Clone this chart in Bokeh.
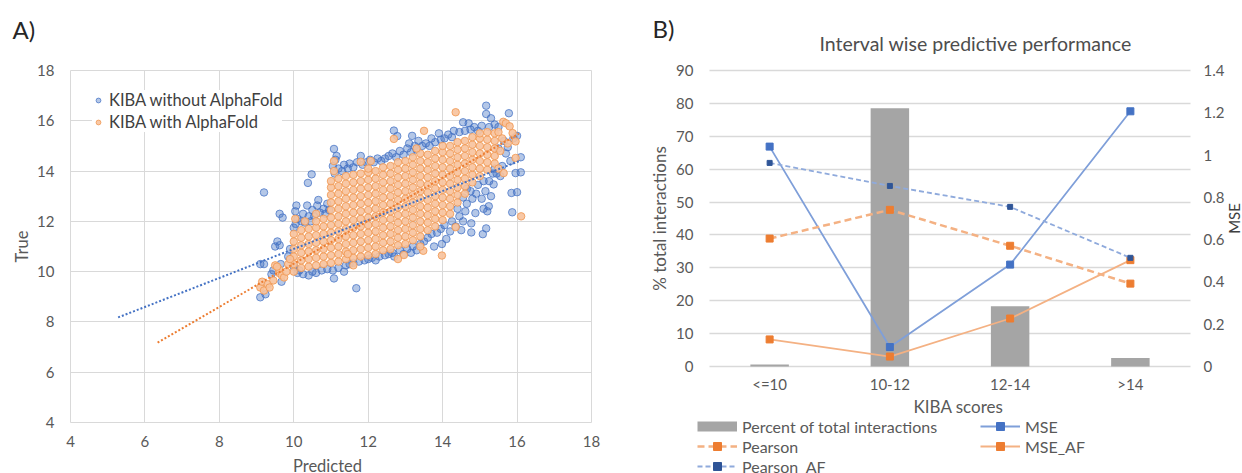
import math
from bokeh.plotting import figure
from bokeh.models import (Range1d, LinearAxis, FixedTicker, Legend, LegendItem, Label,
                          CustomJSTickFormatter)
from bokeh.layouts import row
from bokeh.embed import file_html
from bokeh.resources import INLINE

FONT = "Lato"
TXT = "#595959"
GRID = "#D9D9D9"

# ---------------- Panel A data ----------------
axis_ticks = [4, 6, 8, 10, 12, 14, 16, 18]

blue_trend_x = [5.28, 16.1]
blue_trend_y = [8.18, 14.42]
orange_trend_x = [6.34, 16.05]
orange_trend_y = [7.18, 15.49]

blue_points = [
    (9.2, 13.15), (9.1, 10.3), (9.2, 10.3), (9.1, 8.98), (9.24, 9.1), (9.4, 9.9), (9.45, 10.05),
    (9.67, 9.6), (9.5, 11.0), (9.56, 11.2), (9.62, 11.05), (9.65, 10.3), (9.62, 12.3), (9.7, 12.15),
    (9.85, 10.6), (9.9, 10.9),
    (10.04, 12.4), (10.07, 12.63), (10.05, 11.9), (10.1, 12.1), (10.2, 12.0), (10.25, 12.3),
    (10.36, 12.63), (10.38, 13.53), (10.48, 13.87), (10.4, 12.2), (10.5, 12.45), (10.55, 12.2),
    (10.63, 12.63), (10.66, 12.85), (10.7, 12.35), (10.8, 12.5), (10.85, 12.3), (10.9, 12.7),
    (10.95, 12.45), (10.3, 11.95), (10.45, 12.0), (10.0, 11.75),
    (10.1, 9.95), (10.25, 9.9), (10.4, 9.85), (10.5, 10.0), (10.6, 9.95), (10.75, 10.05),
    (10.9, 10.1), (10.15, 10.05), (10.0, 10.2),
    (11.08, 14.88), (11.05, 14.2), (11.1, 13.9), (11.12, 14.45), (11.2, 14.1), (11.15, 14.6),
    (11.3, 14.0), (11.35, 14.25), (11.45, 14.1), (11.5, 14.3), (11.6, 14.15), (11.7, 14.35),
    (11.8, 14.6), (11.85, 14.25), (11.95, 14.35), (12.05, 14.45), (12.15, 14.35), (12.25, 14.5),
    (12.35, 14.4), (12.45, 14.5), (12.55, 14.6), (12.69, 15.61), (12.78, 15.39), (12.65, 14.7),
    (12.75, 14.55), (12.85, 14.8), (12.95, 14.65), (13.05, 14.9), (13.15, 14.75), (13.18, 15.4),
    (13.25, 15.0), (13.3, 14.85), (13.35, 15.2), (13.45, 15.0), (13.1, 15.1),
    (13.55, 15.1), (13.65, 15.0), (13.7, 15.3), (13.8, 15.15), (13.9, 15.5), (13.95, 15.25),
    (14.05, 15.3), (14.15, 15.45), (14.25, 15.35), (14.3, 15.6), (14.45, 15.55), (14.55, 15.94),
    (14.7, 15.9), (14.6, 15.6), (14.75, 15.65), (14.85, 15.75), (14.95, 15.6), (15.05, 15.8),
    (15.17, 16.6), (15.17, 16.27), (15.3, 16.1), (15.25, 15.75), (15.4, 15.85), (15.78, 16.3),
    (15.5, 15.75),
    (15.6, 14.2), (15.82, 14.4), (15.96, 13.92), (15.85, 13.13), (15.87, 12.36), (16.1, 14.55),
    (16.1, 13.95), (16.0, 13.16), (15.55, 13.8), (15.7, 14.7), (15.5, 14.9), (15.9, 15.3),
    (16.0, 15.4), (15.65, 15.2), (15.37, 13.47), (15.45, 13.9), (15.75, 14.95),
    (11.08, 9.73), (11.35, 10.0), (11.68, 9.34), (11.05, 10.05), (11.2, 10.15), (11.4, 10.25),
    (11.5, 10.3), (11.6, 10.35), (11.75, 10.4), (11.9, 10.45), (12.0, 10.5), (12.1, 10.55),
    (12.2, 10.45), (12.3, 10.6), (12.45, 10.65), (12.55, 10.7), (12.65, 10.75), (12.7, 10.6),
    (12.85, 10.85), (12.95, 10.7), (13.05, 10.9), (13.2, 11.0), (13.3, 10.85), (13.4, 11.1),
    (13.15, 10.75),
    (13.5, 11.2), (13.6, 11.35), (13.77, 11.0), (13.7, 11.5), (13.85, 11.55), (13.98, 11.1),
    (13.95, 11.7), (14.1, 11.3), (14.05, 11.85), (14.2, 11.6), (14.25, 12.0), (14.35, 11.8),
    (14.5, 11.65), (14.45, 12.2), (14.61, 12.4), (14.55, 12.0), (14.65, 12.7), (14.77, 11.92),
    (14.77, 11.56), (14.88, 12.33), (14.8, 12.9), (14.75, 13.2), (14.9, 13.1), (14.95, 13.45),
    (15.08, 11.49), (15.17, 11.72), (15.2, 12.4), (15.24, 12.6), (15.1, 12.5), (15.05, 12.9),
    (15.15, 13.2), (15.3, 13.0), (15.25, 13.6), (15.1, 13.6), (15.35, 13.9), (15.4, 14.1),
    (14.55, 12.95), (14.65, 13.3), (14.4, 12.5),
]

# dense orange band, one entry per predicted-value column: (predicted, [true values])
orange_columns = [
    (10.0, [10.0, 10.3, 10.6, 10.9, 11.2, 11.5]),
    (10.2, [10.15, 10.45, 10.75, 11.05, 11.35, 11.65]),
    (10.4, [10.2, 10.5, 10.8, 11.1, 11.4, 11.7]),
    (10.6, [10.25, 10.55, 10.85, 11.15, 11.45, 11.75, 12.0]),
    (10.8, [10.3, 10.6, 10.9, 11.2, 11.5, 11.8, 12.1]),
    (11.0, [10.35, 10.65, 10.95, 11.25, 11.55, 11.85, 12.15, 12.45, 12.75, 13.05, 13.35, 13.6]),
    (11.2, [10.4, 10.7, 11.0, 11.3, 11.6, 11.9, 12.2, 12.5, 12.8, 13.1, 13.4, 13.7]),
    (11.4, [10.5, 10.8, 11.1, 11.4, 11.7, 12.0, 12.3, 12.6, 12.9, 13.2, 13.5, 13.8]),
    (11.6, [10.55, 10.85, 11.15, 11.45, 11.75, 12.05, 12.35, 12.65, 12.95, 13.25, 13.55, 13.85]),
    (11.8, [10.6, 10.9, 11.2, 11.5, 11.8, 12.1, 12.4, 12.7, 13.0, 13.3, 13.6, 13.9]),
    (12.0, [10.65, 10.95, 11.25, 11.55, 11.85, 12.15, 12.45, 12.75, 13.05, 13.35, 13.65, 13.95, 14.1]),
    (12.2, [10.7, 11.0, 11.3, 11.6, 11.9, 12.2, 12.5, 12.8, 13.1, 13.4, 13.7, 14.0]),
    (12.4, [10.85, 11.15, 11.45, 11.75, 12.05, 12.35, 12.65, 12.95, 13.25, 13.55, 13.85, 14.15]),
    (12.6, [10.9, 11.2, 11.5, 11.8, 12.1, 12.4, 12.7, 13.0, 13.3, 13.6, 13.9, 14.2]),
    (12.8, [11.05, 11.35, 11.65, 11.95, 12.25, 12.55, 12.85, 13.15, 13.45, 13.75, 14.05, 14.35]),
    (13.0, [11.1, 11.4, 11.7, 12.0, 12.3, 12.6, 12.9, 13.2, 13.5, 13.8, 14.1, 14.4]),
    (13.2, [11.25, 11.55, 11.85, 12.15, 12.45, 12.75, 13.05, 13.35, 13.65, 13.95, 14.25, 14.55]),
    (13.4, [11.4, 11.7, 12.0, 12.3, 12.6, 12.9, 13.2, 13.5, 13.8, 14.1, 14.4, 14.7]),
    (13.6, [11.65, 11.95, 12.25, 12.55, 12.85, 13.15, 13.45, 13.75, 14.05, 14.35, 14.65]),
    (13.8, [11.8, 12.1, 12.4, 12.7, 13.0, 13.3, 13.6, 13.9, 14.2, 14.5, 14.8]),
    (14.0, [12.05, 12.35, 12.65, 12.95, 13.25, 13.55, 13.85, 14.15, 14.45, 14.75, 15.0]),
    (14.2, [12.3, 12.6, 12.9, 13.2, 13.5, 13.8, 14.1, 14.4, 14.7, 15.0]),
    (14.4, [12.75, 13.05, 13.35, 13.65, 13.95, 14.25, 14.55, 14.85, 15.15]),
    (14.6, [13.1, 13.4, 13.7, 14.0, 14.3, 14.6, 14.9, 15.2]),
    (14.8, [13.55, 13.85, 14.15, 14.45, 14.75, 15.05, 15.35]),
    (15.0, [13.8, 14.1, 14.4, 14.7, 15.0, 15.3, 15.5]),
    (15.2, [14.05, 14.35, 14.65, 14.95, 15.25, 15.55]),
    (15.4, [14.3, 14.6, 14.9, 15.2, 15.5]),
]

orange_points = [
    (9.1, 9.37), (9.2, 9.25), (9.15, 9.6), (9.3, 9.5), (9.35, 9.37), (9.45, 9.65), (9.5, 10.25),
    (9.6, 9.95), (9.6, 10.1), (9.68, 9.85), (9.74, 9.77), (9.8, 10.0), (9.85, 10.3), (9.9, 10.5),
    (9.55, 10.2), (10.04, 12.1), (10.6, 12.3), (10.3, 12.0), (11.08, 14.4), (11.08, 14.0),
    (11.8, 14.37), (12.07, 14.4), (12.69, 15.28), (13.5, 15.6), (13.3, 14.9), (14.35, 16.34),
    (15.63, 15.96), (15.7, 15.9), (15.8, 15.78), (15.88, 15.51), (15.96, 15.18), (15.96, 14.52),
    (16.11, 12.2), (15.64, 13.92), (15.55, 14.8), (15.6, 15.3), (15.75, 15.1), (15.5, 15.55),
    (13.98, 10.64), (12.96, 10.66), (13.48, 10.83), (12.8, 10.5), (11.45, 10.7), (11.6, 10.25),
    (14.35, 11.77), (13.4, 11.0), (15.5, 14.1),
]

blue_x = [pt[0] for pt in blue_points]
blue_y = [pt[1] for pt in blue_points]
orange_x = [c for c, ys in orange_columns for _ in ys] + [pt[0] for pt in orange_points]
orange_y = [y for c, ys in orange_columns for y in ys] + [pt[1] for pt in orange_points]

# ---------------- Panel B data ----------------
kiba_bins = ["<=10", "10-12", "12-14", ">14"]
percent_total = [0.6, 78.5, 18.3, 2.6]
mse = [1.04, 0.092, 0.482, 1.207]
mse_af = [0.128, 0.047, 0.227, 0.503]
pearson = [0.605, 0.741, 0.571, 0.392]
pearson_af = [0.963, 0.854, 0.755, 0.514]
pct_ticks = [0, 10, 20, 30, 40, 50, 60, 70, 80, 90]
mse_ticks = [0, 0.2, 0.4, 0.6, 0.8, 1, 1.2, 1.4]
bin_x = [i + 0.5 for i in range(len(kiba_bins))]


def style_axis(ax, standoff, label_standoff=5, label_size="16.5px"):
    ax.axis_line_color = None
    ax.major_tick_line_color = None
    ax.minor_tick_line_color = None
    ax.major_tick_out = 0
    ax.major_tick_in = 0
    ax.minor_tick_out = 0
    ax.minor_tick_in = 0
    ax.major_label_text_font = FONT
    ax.major_label_text_font_size = "15px"
    ax.major_label_text_color = TXT
    ax.major_label_standoff = standoff
    ax.axis_label_text_font = FONT
    ax.axis_label_text_font_size = label_size
    ax.axis_label_text_font_style = "normal"
    ax.axis_label_text_color = TXT
    ax.axis_label_standoff = label_standoff


# ---------------- Panel A ----------------
p1 = figure(width=640, height=473, x_range=Range1d(2.119, 19.317), y_range=Range1d(1.972, 20.784),
            output_backend="svg", toolbar_location=None, min_border=0)
p1.outline_line_color = None
p1.xgrid.grid_line_color = GRID
p1.ygrid.grid_line_color = GRID
p1.xgrid.cross_bounds = (4, 18)
p1.ygrid.cross_bounds = (4, 18)
p1.xgrid.ticker = FixedTicker(ticks=axis_ticks)
p1.ygrid.ticker = FixedTicker(ticks=axis_ticks)

xa = p1.xaxis[0]
xa.ticker = FixedTicker(ticks=axis_ticks)
xa.fixed_location = 4
xa.bounds = (3.8, 18)
xa.axis_label = "Predicted"
style_axis(xa, 13, 6)
ya = p1.yaxis[0]
ya.ticker = FixedTicker(ticks=axis_ticks)
ya.fixed_location = 4
ya.bounds = (4, 18)
ya.axis_label = "True"
style_axis(ya, 16, 2)

r_blue = p1.scatter(blue_x, blue_y, size=7.5, marker="circle",
                    fill_color="#4472C4", fill_alpha=0.4,
                    line_color="#4472C4", line_alpha=0.75, line_width=1)
r_orange = p1.scatter(orange_x, orange_y, size=7.5, marker="circle",
                      fill_color="#F7C29C", fill_alpha=0.9,
                      line_color="#F0964F", line_alpha=0.8, line_width=1)
p1.line(blue_trend_x, blue_trend_y, line_color="#4472C4", line_width=2, line_dash="2 2")
p1.line(orange_trend_x, orange_trend_y, line_color="#ED7D31", line_width=2, line_dash="2 2")

leg1 = Legend(items=[LegendItem(label="KIBA without AlphaFold", renderers=[r_blue]),
                     LegendItem(label="KIBA with AlphaFold", renderers=[r_orange])],
              location=(92, 341), padding=5, spacing=2, margin=0,
              glyph_width=12, glyph_height=20, label_height=20, label_standoff=5,
              background_fill_color="white", background_fill_alpha=1.0,
              border_line_color=None,
              label_text_font=FONT, label_text_font_size="16.5px", label_text_color="#404040")
p1.add_layout(leg1)

p1.add_layout(Label(x=2.441, y=19.63, text="A)", text_align="left", text_baseline="middle",
                    text_font=FONT, text_font_size="24px", text_color="#262626"))

# ---------------- Panel B ----------------
p2 = figure(width=602, height=473, x_range=Range1d(-0.5738, 4.4324),
            y_range=Range1d(-32.53, 111.28), output_backend="svg", toolbar_location=None,
            min_border=0)
p2.extra_y_ranges = {"mse": Range1d(-0.5061, 1.7311)}
p2.outline_line_color = None
p2.xgrid.grid_line_color = None
p2.ygrid.grid_line_color = GRID
p2.ygrid.grid_line_width = 1.5
p2.ygrid.ticker = FixedTicker(ticks=pct_ticks)
p2.ygrid.cross_bounds = (0, 4)

xb = p2.xaxis[0]
xb.ticker = FixedTicker(ticks=bin_x)
xb.formatter = CustomJSTickFormatter(args=dict(labels=kiba_bins),
                                     code="return labels[Math.round(tick - 0.5)]")
xb.fixed_location = 0
xb.bounds = (0.14, 4)
xb.axis_label = "KIBA scores"
style_axis(xb, 8, 0, "17px")

yb = p2.yaxis[0]
yb.ticker = FixedTicker(ticks=pct_ticks)
yb.fixed_location = 0
yb.bounds = (0, 90)
yb.axis_label = "% total interactions"
style_axis(yb, 16, 3, "17px")

ax_r = LinearAxis(y_range_name="mse", ticker=FixedTicker(ticks=mse_ticks),
                  formatter=CustomJSTickFormatter(code="return String(tick)"),
                  fixed_location=4, bounds=(0, 1.4))
style_axis(ax_r, 13)
p2.add_layout(ax_r, "right")

p2.vbar(x=bin_x, top=percent_total, width=0.32, fill_color="#A5A5A5", line_color=None)
# legend-only swatch for the bars (kept outside the visible range)
bar_leg = p2.line(x=[-3, -2], y=[-100, -100], line_color="#A5A5A5", line_width=10)

l_mse = p2.line(bin_x, mse, y_range_name="mse", line_color="#7F9FD9", line_width=1.8)
m_mse = p2.scatter(bin_x, mse, y_range_name="mse", marker="square", size=7,
                   fill_color="#4472C4", line_color="#4472C4")
l_mseaf = p2.line(bin_x, mse_af, y_range_name="mse", line_color="#F4B183", line_width=1.8)
m_mseaf = p2.scatter(bin_x, mse_af, y_range_name="mse", marker="square", size=7,
                     fill_color="#ED7D31", line_color="#ED7D31")
l_p = p2.line(bin_x, pearson, y_range_name="mse", line_color="#F4B183", line_width=2.5,
              line_dash="7 4")
m_p = p2.scatter(bin_x, pearson, y_range_name="mse", marker="square", size=7,
                 fill_color="#ED7D31", line_color="#ED7D31")
l_paf = p2.line(bin_x, pearson_af, y_range_name="mse", line_color="#8FAADC", line_width=1.8,
                line_dash="5 3")
m_paf = p2.scatter(bin_x, pearson_af, y_range_name="mse", marker="square", size=5,
                   fill_color="#2F5597", line_color="#2F5597")

leg_common = dict(orientation="vertical", padding=0, spacing=0, margin=0,
                  glyph_width=40, glyph_height=20, label_height=20, label_standoff=5,
                  background_fill_alpha=0, border_line_color=None,
                  label_text_font=FONT, label_text_font_size="16px", label_text_color=TXT)
leg_a = Legend(items=[LegendItem(label="Percent of total interactions", renderers=[bar_leg]),
                      LegendItem(label="Pearson", renderers=[l_p, m_p]),
                      LegendItem(label="Pearson_AF", renderers=[l_paf, m_paf])],
               location=(57, -3), **leg_common)
leg_b = Legend(items=[LegendItem(label="MSE", renderers=[l_mse, m_mse]),
                      LegendItem(label="MSE_AF", renderers=[l_mseaf, m_mseaf])],
               location=(340, 17), **leg_common)
p2.add_layout(leg_a)
p2.add_layout(leg_b)

p2.add_layout(Label(x=-0.474, y=102.77, text="B)", text_align="left", text_baseline="middle",
                    text_font=FONT, text_font_size="24px", text_color="#262626"))
p2.add_layout(Label(x=2.212, y=98.21, text="Interval wise predictive performance",
                    text_align="center", text_baseline="middle",
                    text_font=FONT, text_font_size="19.5px", text_color="#4D4D4D"))
p2.add_layout(Label(x=4.291, y=45.0, text="MSE", angle=math.pi / 2,
                    text_align="center", text_baseline="top",
                    text_font=FONT, text_font_size="15px", text_color="#404040"))

layout = row(p1, p2)
open("out.html", "w").write(file_html(layout, INLINE))
